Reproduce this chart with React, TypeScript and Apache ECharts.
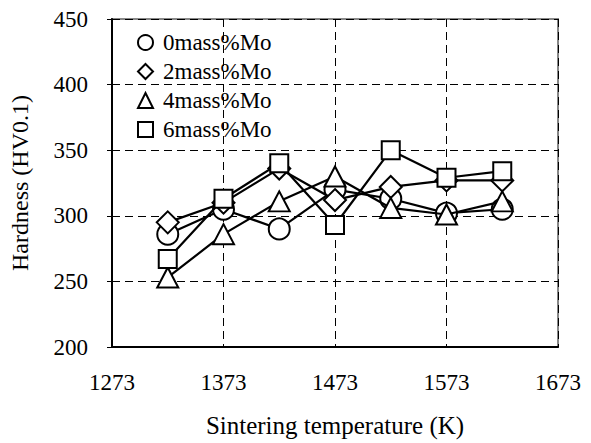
import React, { useEffect, useRef } from "react";
import * as echarts from "echarts";

const BASE_TEMP = 1273;
const temps = [1323, 1373, 1423, 1473, 1523, 1573, 1623];
const seriesNames = ["0mass%Mo", "2mass%Mo", "4mass%Mo", "6mass%Mo"];
const mo0 = [286, 305, 290, 320, 313, 302, 305];
const mo2 = [295, 310, 336, 312, 322, 327, 327];
const mo4 = [253, 286, 311, 330, 306, 301, 311];
const mo6 = [267, 313, 340, 293, 350, 329, 334];
const xTicks = [1273, 1373, 1473, 1573, 1673];
const yTicks = [200, 250, 300, 350, 400, 450];

const FONT = '"Liberation Serif", "Times New Roman", serif';

export default function App() {
  const ref = useRef<HTMLDivElement>(null);
  useEffect(() => {
    if (!ref.current) return;
    const chart = echarts.init(ref.current, null, { renderer: "svg" });
    const values = [mo0, mo2, mo4, mo6];
    const symbols = ["circle", "diamond", "triangle", "rect"];
    const sizes: any[] = [21, 22, [21, 20], 18];
    const legendIcons = ["circle", "diamond", "triangle", "rect"];
    chart.setOption({
      animation: false,
      backgroundColor: "#fff",
      textStyle: { fontFamily: FONT, color: "#000" },
      grid: { left: 111, right: 33, top: 19, bottom: 95, show: true, borderColor: "#888", borderWidth: 2 },
      legend: {
        orient: "vertical",
        left: 132,
        top: 26,
        itemWidth: 15,
        itemHeight: 15,
        itemGap: 6,
        textStyle: { fontFamily: FONT, fontSize: 23, color: "#000", padding: [0, 0, 0, 5] },
        itemStyle: { color: "#fff", borderColor: "#000", borderWidth: 2 },
        data: seriesNames.map((n, i) => ({ name: n, icon: legendIcons[i] })),
      },
      xAxis: {
        type: "value",
        min: 0,
        max: xTicks[xTicks.length - 1] - BASE_TEMP,
        interval: 100,
        name: "Sintering temperature (K)",
        nameLocation: "middle",
        nameGap: 66,
        nameTextStyle: { fontFamily: FONT, fontSize: 25, color: "#000" },
        axisLine: { show: true, lineStyle: { color: "#000", width: 2 } },
        axisTick: { show: false },
        axisLabel: {
          margin: 24,
          fontFamily: FONT,
          fontSize: 23,
          color: "#000",
          formatter: (v: number) => String(v + BASE_TEMP),
        },
        splitLine: { show: true, lineStyle: { color: "#000", type: [8, 5], width: 1 } },
      },
      yAxis: {
        type: "value",
        min: yTicks[0],
        max: yTicks[yTicks.length - 1],
        interval: 50,
        name: "Hardness (HV0.1)",
        nameLocation: "middle",
        nameGap: 80,
        nameTextStyle: { fontFamily: FONT, fontSize: 24, color: "#000" },
        axisLine: { show: true, lineStyle: { color: "#000", width: 2 } },
        axisTick: { show: true, length: 5, lineStyle: { color: "#000" } },
        axisLabel: { margin: 24, fontFamily: FONT, fontSize: 23, color: "#000" },
        splitLine: { show: true, lineStyle: { color: "#000", type: [8, 5], width: 1 } },
      },
      series: values.map((vals, i) => ({
        name: seriesNames[i],
        type: "line",
        data: temps.map((t, j) => [t - BASE_TEMP, vals[j]]),
        symbol: symbols[i],
        symbolSize: sizes[i],
        showAllSymbol: true,
        lineStyle: { color: "#000", width: 2.2 },
        itemStyle: { color: "#fff", borderColor: "#000", borderWidth: 2 },
        emphasis: { disabled: true },
        z: 2 + i,
      })),
    });
    return () => chart.dispose();
  }, []);
  return (
    <div
      ref={ref}
      style={{ position: "fixed", left: 0, top: 0, width: 591, height: 443, background: "#fff" }}
    />
  );
}
